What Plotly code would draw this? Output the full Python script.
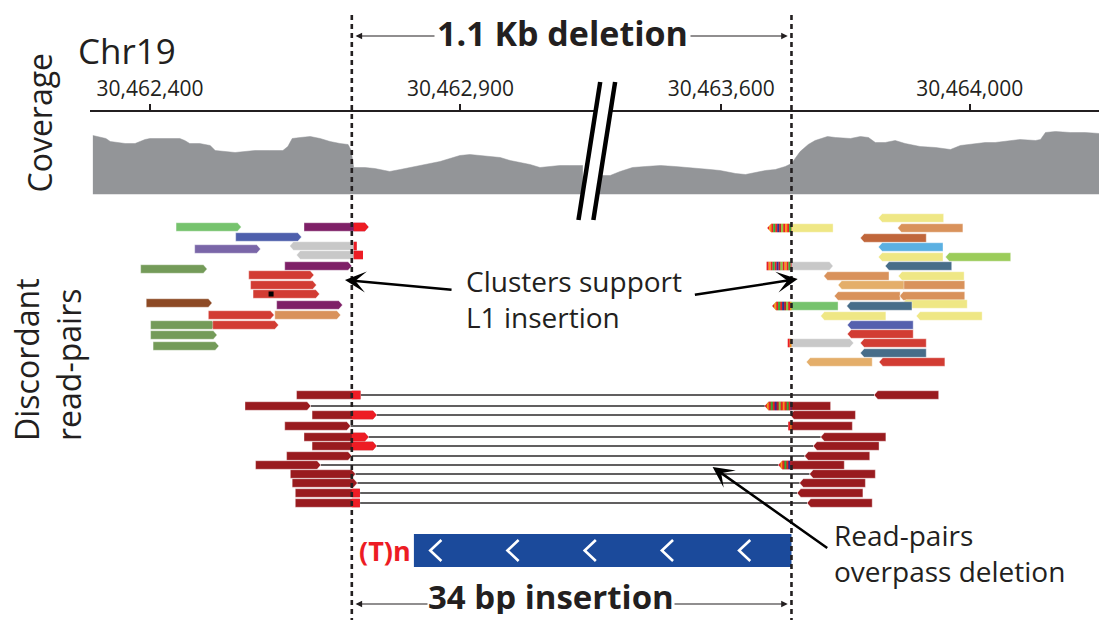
import numpy as np
import plotly.graph_objects as go

# ---------------- genomic frame ----------------
BP_L = 30462725      # left breakpoint of the deletion
BP_R = 30463713      # right breakpoint of the deletion
BREAK_G = 30463110   # start of the stretch hidden by the axis break
GAP = 280            # bases hidden by the axis break
X_MIN, X_MAX = 30462303.4, 30463928.2   # visible (collapsed) coordinate range

TICK_POS = [30462400, 30462900, 30463600, 30464000]
TICK_TEXT = ["30,462,400", "30,462,900", "30,463,600", "30,464,000"]

# ---------------- coverage ----------------
COV_POS_L = [30462308, 30462315, 30462320, 30462329, 30462336, 30462348, 30462360, 30462376,
             30462392, 30462400, 30462424, 30462448, 30462456, 30462464, 30462480, 30462497,
             30462505, 30462521, 30462537, 30462553, 30462569, 30462593, 30462614, 30462622,
             30462629, 30462642, 30462658, 30462674, 30462690, 30462706, 30462719, 30462724,
             30462728, 30462746, 30462762, 30462778, 30462786, 30462803, 30462819, 30462835,
             30462851, 30462867, 30462883, 30462899, 30462915, 30462931, 30462947, 30462964,
             30462980, 30462996, 30463012, 30463028, 30463044, 30463060, 30463076, 30463097]
COV_DEP_L = [59, 58, 57, 56, 53, 52, 51, 51, 55, 56, 56, 56, 54, 51, 51, 49,
             44, 43, 42, 43, 44, 44, 44, 48, 56, 57, 58, 56, 53, 51, 50, 44,
             27, 27, 26, 24, 23, 25, 27, 29, 31, 33, 36, 39, 40, 39, 38, 37,
             34, 32, 30, 27, 28, 29, 29, 29]
COV_POS_R = [30463402, 30463421, 30463437, 30463457, 30463478, 30463502, 30463526, 30463550,
             30463566, 30463582, 30463598, 30463623, 30463639, 30463655, 30463671, 30463687,
             30463703, 30463713, 30463719, 30463727, 30463740, 30463751, 30463771, 30463784,
             30463808, 30463824, 30463837, 30463848, 30463864, 30463880, 30463896, 30463920,
             30463945, 30463969, 30463985, 30464001, 30464025, 30464041, 30464057, 30464081,
             30464106, 30464114, 30464122, 30464138, 30464162, 30464186, 30464209]
COV_DEP_R = [19, 19, 23, 27, 28, 29, 28, 27, 26, 25, 24, 21, 20, 22, 24, 25,
             28, 31, 36, 43, 50, 54, 58, 57, 56, 58, 57, 52, 52, 54, 51, 48,
             47, 45, 49, 50, 52, 52, 53, 55, 54, 55, 62, 63, 62, 62, 61]

# ---------------- left discordant cluster (offsets from BP_L, bp) ----------------
LC_START = [-283, -77, -187, -100, -253, -89, -108, -340, -166, -163, -159, -331, -121, -231, -124, -324, -224, -324, -320]
LC_END   = [-178,  27,  -81,    8, -147,  18,    0, -233,  -61,  -57,  -52, -225,  -15, -125,  -18, -219, -118, -217, -214]
LC_ROW   = [22.7, 22.7, 23.7, 24.6, 24.9, 25.5, 26.6, 26.9, 27.5, 28.5, 29.4, 30.3, 30.5, 31.5, 31.5, 32.5, 32.5, 33.5, 34.6]
LC_STRAND = ['+', '+', '+', '-', '+', '-', '+', '+', '+', '+', '+', '+', '+', '+', '+', '+', '+', '+', '+']
LC_COLOR = ['ltgreen', 'purple', 'blue', 'grey', 'lavender', 'grey', 'purple', 'olive', 'red', 'red',
            'red', 'brown', 'purple', 'red', 'tan', 'olive', 'red', 'olive', 'olive']
LC_CLIP = [None, (3, 27, 'red'), None, (3, 8, 'red'), None, (3, 18, 'red')] + [None] * 13
LC_MISMATCH_POS = [-130]
LC_MISMATCH_ROW = [29.4]

# ---------------- right discordant cluster (offsets from BP_R, bp) ----------------
RC_START = [140, -39, 171, 111, 140, 140, 248, -40, 151, 52, 172, 75, 174, 69, 174, -31, 89, 178,
            47, 201, 90, 90, -6, 111, 111, 24, 141]
RC_END   = [245, 67, 276, 217, 244, 244, 353, 67, 258, 157, 278, 181, 279, 175, 279, 75, 194, 283,
            152, 307, 196, 196, 100, 217, 217, 130, 247]
RC_ROW   = [21.8, 22.8, 22.8, 23.8, 24.7, 25.7, 25.7, 26.6, 26.6, 27.6, 27.6, 28.5, 28.5, 29.6, 29.6,
            30.6, 30.6, 30.4, 31.6, 31.6, 32.5, 33.4, 34.3, 34.3, 35.3, 36.2, 36.2]
RC_STRAND = ['-', '-', '-', '-', '-', '-', '-', '+', '-', '-', '-', '-', '-', '-', '-', '-', '-', '-',
             '-', '-', '-', '-', '+', '-', '-', '-', '-']
RC_COLOR = ['yellow', 'yellow', 'tan', 'rust', 'sky', 'yellow', 'ygreen', 'grey', 'steel', 'tan',
            'yellow', 'ltorange', 'tan', 'tan', 'tan', 'ltgreen', 'steel', 'yellow', 'yellow', 'yellow',
            'violet', 'red', 'grey', 'red', 'steel', 'ltorange', 'red']
RC_CLIP = [None, (-39, 0, 'stripes'), None, None, None, None, None, (-40, 0, 'stripes')] + [None] * 7 + \
          [(-31, 0, 'stripes')] + [None] * 6 + [(-6, 0, 'stripes')] + [None] * 4

# ---------------- read pairs spanning the deletion ----------------
PAIR_ROW = [39.5, 40.6, 41.5, 42.6, 43.7, 44.6, 45.6, 46.5, 47.4, 48.3, 49.3, 50.3]
PL_START = [-89, -172, -64, -108, -77, -64, -105, -155, -99, -96, -91, -91]
PL_END   = [14, -66, 40, -2, 27, 40, 0, -50, 6, 9, 13, 13]
PL_STRAND = ['', '+', '+', '+', '+', '+', '+', '+', '+', '+', '', '']
PL_CLIP = [(0, 14, 'red'), None, (0, 40, 'red'), None, (0, 27, 'red'), (0, 40, 'red'),
           None, None, None, None, (0, 13, 'red'), (0, 13, 'red')]
PR_START = [133, -43, -2, -5, 47, 35, 21, -21, 29, 13, 9, 25]
PR_END   = [237, 63, 103, 98, 152, 141, 126, 85, 135, 119, 115, 130]
PR_STRAND = ['-', '-', '-', '', '-', '-', '-', '-', '-', '-', '-', '-']
PR_CLIP = [None, (-43, 0, 'stripes'), None, (-5, 0, 'stripes'), None, None, None,
           (-21, 0, 'stripes'), None, None, None, None]

# ---------------- inserted element ----------------
INS_START = BP_L + 100
INS_END = BP_R
INS_ROW = 55.05
N_CHEVRON = 5

# ---------------- styles ----------------
PAL = {
    'ltgreen': '#76c36d', 'purple': '#7e2067', 'blue': '#4e5fac', 'grey': '#c8c8c8',
    'lavender': '#7a66a8', 'olive': '#749b59', 'red': '#d23c33', 'brown': '#8d4a25',
    'tan': '#d9925b', 'yellow': '#efe785', 'rust': '#c0663b', 'sky': '#5bb0e2',
    'ygreen': '#9bcc5a', 'steel': '#476d89', 'ltorange': '#e4ae6a', 'violet': '#5560ae',
    'dkred': '#991b1f',
}
CLIP_RED = '#ed1c24'
STRIPES = ['#ed1c24', '#f7941d', '#ed1c24', '#3aaa35', '#ed1c24', '#2e3192', '#be1e2d', '#8dc63f']
STRIPE_W = 3.2
TEXT = '#231f20'
FONT = 'Open Sans'
H = 0.85
TIP = 6


def to_u(g):
    g = np.asarray(g, dtype=float)
    return np.where(g > BREAK_G, g - GAP, g)


def outline(s, e, strand):
    if strand == '+':
        return [s, e - TIP, e], [1, 1, 0]
    if strand == '-':
        return [s, s + TIP, e], [0, 1, 1]
    return [s, e], [1, 1]


def poly(s, e, row, strand, a=None, b=None):
    xs, hs = outline(s, e, strand)
    a = s if a is None else max(a, s)
    b = e if b is None else min(b, e)
    pts = sorted(set([a, b] + [x for x in xs if a < x < b]))
    hh = np.interp(pts, xs, hs) * H / 2
    X = list(pts) + list(pts[::-1]) + [pts[0]]
    Y = list(row - hh) + list((row + hh)[::-1]) + [row - hh[0]]
    return X, Y


base_groups = {}
clip_groups = {}


def add(groups, color, X, Y):
    gx, gy = groups.setdefault(color, ([], []))
    gx.extend(list(to_u(X)) + [None])
    gy.extend(list(Y) + [None])


def process(bp, starts, ends, rows, strands, colors, clips):
    for s, e, r, st, c, cl in zip(starts, ends, rows, strands, colors, clips):
        S, E = bp + s, bp + e
        X, Y = poly(S, E, r, st)
        add(base_groups, PAL[c], X, Y)
        if cl is not None:
            a, b, kind = cl
            a, b = bp + a, bp + b
            if kind == 'red':
                X, Y = poly(S, E, r, st, a, b)
                add(clip_groups, CLIP_RED, X, Y)
            else:
                edges = np.arange(a, b, STRIPE_W)
                for k, x0 in enumerate(edges):
                    X, Y = poly(S, E, r, st, x0, min(x0 + STRIPE_W, b))
                    add(clip_groups, STRIPES[k % len(STRIPES)], X, Y)


process(BP_L, LC_START, LC_END, LC_ROW, LC_STRAND, LC_COLOR, LC_CLIP)
process(BP_R, RC_START, RC_END, RC_ROW, RC_STRAND, RC_COLOR, RC_CLIP)
process(BP_L, PL_START, PL_END, PAIR_ROW, PL_STRAND, ['dkred'] * len(PAIR_ROW), PL_CLIP)
process(BP_R, PR_START, PR_END, PAIR_ROW, PR_STRAND, ['dkred'] * len(PAIR_ROW), PR_CLIP)

fig = go.Figure()

# pair connecting lines
lx, ly = [], []
for r, le, rs in zip(PAIR_ROW, PL_END, PR_START):
    lx += [float(to_u(BP_L + le)), float(to_u(BP_R + rs)), None]
    ly += [r, r, None]
fig.add_trace(go.Scatter(x=lx, y=ly, mode='lines', line=dict(color='#2d2a2b', width=1.5),
                         hoverinfo='skip', showlegend=False))

# coverage
for pos, dep in ((COV_POS_L, COV_DEP_L), (COV_POS_R, COV_DEP_R)):
    fig.add_trace(go.Scatter(x=to_u(pos), y=dep, yaxis='y2', mode='lines', fill='tozeroy',
                             fillcolor='#939598', line=dict(color='#939598', width=0.5),
                             hoverinfo='skip', showlegend=False))

for groups, lw in ((base_groups, 0.7), (clip_groups, 0)):
    for col, (gx, gy) in groups.items():
        fig.add_trace(go.Scatter(x=gx, y=gy, mode='lines', fill='toself', fillcolor=col,
                                 line=dict(color='rgba(255,255,255,0.55)' if lw else col, width=lw),
                                 hoverinfo='skip', showlegend=False))

# mismatch
fig.add_trace(go.Scatter(x=to_u([BP_L + p for p in LC_MISMATCH_POS]), y=LC_MISMATCH_ROW, mode='markers',
                         marker=dict(symbol='square', size=5, color='black'),
                         hoverinfo='skip', showlegend=False))

# inserted element bar
u0, u1 = float(to_u(INS_START)), float(to_u(INS_END))
fig.add_trace(go.Scatter(x=[u0, u1, u1, u0, u0], y=[INS_ROW - 1.65, INS_ROW - 1.65, INS_ROW + 1.65, INS_ROW + 1.65, INS_ROW - 1.65],
                         mode='lines', fill='toself', fillcolor='#1b4a9b', line=dict(width=0),
                         hoverinfo='skip', showlegend=False))
cx, cy = [], []
L = u1 - u0
for c in np.linspace(u0 + 0.058 * L, u0 + 0.876 * L, N_CHEVRON):
    cx += [c + 9, c - 9, c + 9, None]
    cy += [INS_ROW - 1.05, INS_ROW, INS_ROW + 1.05, None]
fig.add_trace(go.Scatter(x=cx, y=cy, mode='lines', line=dict(color='white', width=2.6),
                         hoverinfo='skip', showlegend=False))

shapes = []
for bp in (BP_L, BP_R):
    xb = float(to_u(bp))
    shapes.append(dict(type='line', xref='x', yref='y', x0=xb, x1=xb, y0=1.5, y1=62.5,
                       line=dict(color=TEXT, width=2.6, dash='5px,4px'), layer='above'))
# axis break marks
BU = float(to_u(BREAK_G))
t1, b1, off = BU + 15, BU - 20, 24
shapes.append(dict(type='path', xref='x', yref='y',
                   path=f'M{t1},8.2 L{t1 + off},8.2 L{b1 + off},22.0 L{b1},22.0 Z',
                   fillcolor='white', line=dict(width=0), layer='above'))
for o in (0, off):
    shapes.append(dict(type='line', xref='x', yref='y', x0=t1 + o, y0=8.2, x1=b1 + o, y1=22.0,
                       line=dict(color='black', width=4.5), layer='above'))

ann = []
# double-headed span arrows
for yrow, mid in ((3.6, BP_L + 340), (60.4, BP_L + 321)):
    for head in (BP_L + 6, BP_R - 6):
        ann.append(dict(x=float(to_u(head)), y=yrow, ax=float(to_u(mid)), ay=yrow, xref='x', yref='y',
                        axref='x', ayref='y', text='', showarrow=True, arrowhead=2, arrowsize=1.1,
                        arrowwidth=1.2, arrowcolor=TEXT))
ann.append(dict(x=float(to_u(BP_L + 340)), y=3.25, xref='x', yref='y', text='<b>1.1 Kb deletion</b>',
                showarrow=False, bgcolor='white', borderpad=2,
                font=dict(family=FONT, size=34, color=TEXT)))
ann.append(dict(x=float(to_u(BP_L + 321)), y=59.6, xref='x', yref='y', text='<b>34 bp insertion</b>',
                showarrow=False, bgcolor='white', borderpad=0, height=36, valign='middle',
                font=dict(family=FONT, size=33, color=TEXT)))
ann.append(dict(x=u0 - 1, y=INS_ROW - 0.05, xref='x', yref='y', text='<b>(T)n</b>', xanchor='right',
                showarrow=False, font=dict(family=FONT, size=27, color='#ed1c24')))

# callout arrows
for hx, hy, tx, ty in ((BP_L - 11, 28.0, BP_L + 163, 29.0),
                       (BP_R + 10, 27.9, BP_R - 158, 29.5),
                       (BP_R - 127, 46.7, BP_R + 60, 54.9)):
    ann.append(dict(x=float(to_u(hx)), y=hy, ax=float(to_u(tx)), ay=ty, xref='x', yref='y',
                    axref='x', ayref='y', text='', showarrow=True, arrowhead=3, arrowsize=1.4,
                    arrowwidth=2.5, arrowcolor='black'))
ann.append(dict(x=float(to_u(BP_L + 180)), y=29.9, xref='x', yref='y', xanchor='left', align='left',
                text='Clusters support<br>L1 insertion', showarrow=False,
                font=dict(family=FONT, size=28, color=TEXT)))
ann.append(dict(x=float(to_u(BP_R + 65)), y=55.3, xref='x', yref='y', xanchor='left', align='left',
                text='Read-pairs<br>overpass deletion', showarrow=False,
                font=dict(family=FONT, size=28, color=TEXT)))

# panel labels
ann.append(dict(x=127 / 1099, y=0.9187, xref='paper', yref='paper', text='Chr19', showarrow=False,
                xanchor='center', yanchor='middle',
                font=dict(family=FONT, size=35, color=TEXT)))
ann.append(dict(x=0.0364, y=0.8024, xref='paper', yref='paper', text='Coverage', textangle=-90,
                xanchor='center', yanchor='middle',
                showarrow=False, font=dict(family=FONT, size=32, color=TEXT)))
ann.append(dict(x=0.0437, y=0.4194, xref='paper', yref='paper', text='Discordant<br>read-pairs',
                textangle=-90, align='left', showarrow=False, xanchor='center', yanchor='middle',
                font=dict(family=FONT, size=32, color=TEXT)))

fig.update_layout(
    width=1099, height=620, autosize=False,
    margin=dict(l=0, r=0, t=0, b=0),
    paper_bgcolor='white', plot_bgcolor='white',
    showlegend=False,
    xaxis=dict(domain=[90 / 1099, 1], range=[X_MIN, X_MAX], side='top', anchor='free',
               position=1 - 111 / 620, showline=True, linecolor=TEXT, linewidth=2,
               ticks='outside', ticklen=6, tickwidth=2, tickcolor=TEXT,
               tickvals=[float(v) for v in to_u(TICK_POS)], ticktext=TICK_TEXT,
               tickfont=dict(family=FONT, size=21, color=TEXT),
               showgrid=False, zeroline=False, fixedrange=True),
    yaxis=dict(domain=[0, 1], range=[62, 0], visible=False, fixedrange=True),
    yaxis2=dict(domain=[1 - 194.5 / 620, 1 - 124.5 / 620], range=[0, 70], visible=False,
                anchor='x', fixedrange=True),
    shapes=shapes,
    annotations=ann,
)

fig.write_html("out.html", include_plotlyjs=True, config={'displayModeBar': False})
